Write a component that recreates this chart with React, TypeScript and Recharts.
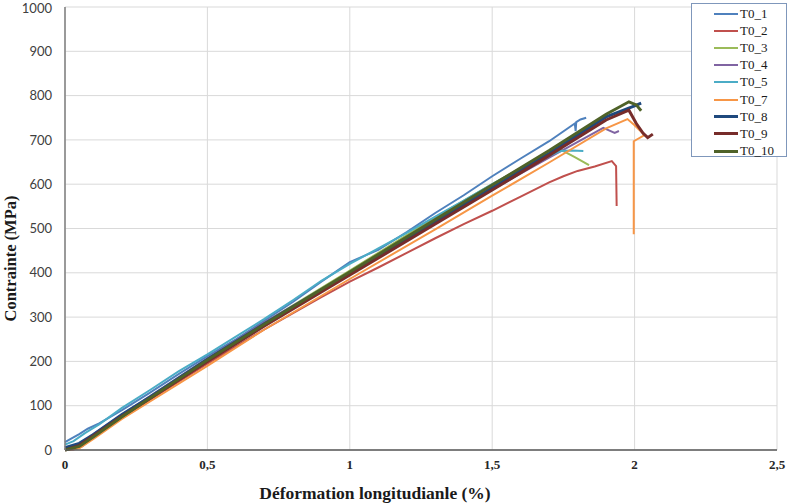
import React from 'react';
import { LineChart, Line, XAxis, YAxis, CartesianGrid, Label } from 'recharts';

// strain (%) / stress (MPa) pairs
const t0_1: [number, number][] = [
  [0, 18], [0.02, 25], [0.05, 36], [0.08, 48], [0.12, 60], [0.2, 90], [0.3, 130], [0.4, 172],
  [0.5, 212], [0.6, 250], [0.7, 292], [0.8, 334], [0.9, 380], [1.0, 424], [1.1, 452], [1.2, 492],
  [1.3, 535], [1.4, 575], [1.5, 618], [1.6, 658], [1.7, 697], [1.79, 737], [1.793, 720],
  [1.795, 740], [1.81, 746], [1.83, 750],
];
const t0_2: [number, number][] = [
  [0, 0], [0.03, 1], [0.06, 8], [0.1, 28], [0.2, 73], [0.3, 114], [0.5, 195], [0.7, 272],
  [0.9, 345], [1.0, 380], [1.1, 412], [1.2, 445], [1.3, 478], [1.4, 510], [1.5, 540], [1.6, 572],
  [1.7, 604], [1.75, 618], [1.8, 630], [1.86, 640], [1.92, 652], [1.935, 641], [1.937, 551],
];
const t0_3: [number, number][] = [
  [0, 0], [0.05, 5], [0.1, 28], [0.2, 74], [0.3, 117], [0.5, 204], [0.7, 287], [1.0, 405],
  [1.3, 525], [1.5, 600], [1.65, 655], [1.74, 678], [1.79, 661], [1.84, 643],
];
const t0_4: [number, number][] = [
  [0, 0], [0.05, 12], [0.1, 36], [0.2, 80], [0.3, 122], [0.5, 207], [0.7, 288], [1.0, 400],
  [1.3, 512], [1.5, 588], [1.7, 660], [1.89, 727], [1.93, 716], [1.945, 720],
];
const t0_5: [number, number][] = [
  [0, 12], [0.03, 20], [0.07, 38], [0.12, 58], [0.2, 95], [0.3, 136], [0.4, 178], [0.5, 216],
  [0.6, 256], [0.7, 296], [0.8, 338], [0.9, 382], [1.0, 420], [1.1, 455], [1.2, 490], [1.3, 527],
  [1.4, 563], [1.5, 600], [1.6, 635], [1.7, 664], [1.74, 675], [1.78, 676], [1.82, 675],
];
const t0_7: [number, number][] = [
  [0, 0], [0.05, 4], [0.1, 25], [0.2, 70], [0.3, 110], [0.5, 190], [0.7, 272], [1.0, 386],
  [1.3, 498], [1.5, 574], [1.7, 649], [1.9, 726], [1.975, 747], [2.0, 733], [2.035, 711],
  [1.997, 697], [1.997, 487],
];
const t0_8: [number, number][] = [
  [0, 5], [0.05, 15], [0.1, 35], [0.2, 80], [0.3, 120], [0.5, 205], [0.7, 285], [1.0, 400],
  [1.3, 515], [1.5, 592], [1.7, 670], [1.9, 752], [2.0, 777], [2.023, 783],
];
const t0_9: [number, number][] = [
  [0, 0], [0.05, 10], [0.1, 32], [0.2, 76], [0.3, 117], [0.5, 200], [0.7, 280], [1.0, 395],
  [1.3, 510], [1.5, 587], [1.7, 665], [1.9, 745], [1.98, 767], [2.006, 737], [2.03, 715],
  [2.046, 705], [2.064, 713],
];
const t0_10: [number, number][] = [
  [0, 0], [0.05, 8], [0.1, 30], [0.2, 75], [0.3, 118], [0.5, 203], [0.7, 284], [1.0, 402],
  [1.3, 520], [1.5, 598], [1.7, 676], [1.9, 758], [1.98, 786], [2.006, 779], [2.023, 766],
];

const xTicks = [0, 0.5, 1, 1.5, 2, 2.5];
const yTicks = [0, 100, 200, 300, 400, 500, 600, 700, 800, 900, 1000];

const series = [
  { name: 'T0_1', pts: t0_1, color: '#4f81bd', w: 2 },
  { name: 'T0_2', pts: t0_2, color: '#c0504d', w: 2 },
  { name: 'T0_3', pts: t0_3, color: '#9bbb59', w: 2 },
  { name: 'T0_4', pts: t0_4, color: '#8064a2', w: 2 },
  { name: 'T0_5', pts: t0_5, color: '#4bacc6', w: 2 },
  { name: 'T0_7', pts: t0_7, color: '#f79646', w: 2 },
  { name: 'T0_8', pts: t0_8, color: '#1f497d', w: 3 },
  { name: 'T0_9', pts: t0_9, color: '#772c2a', w: 3 },
  { name: 'T0_10', pts: t0_10, color: '#4f6228', w: 3 },
];

const serif = 'Liberation Serif';

const LegendBox = () => (
  <div
    style={{
      position: 'absolute',
      left: 691,
      top: 3,
      width: 96,
      height: 154,
      border: '1px solid #7f97bb',
      background: '#fff',
      boxSizing: 'border-box',
      paddingTop: 1,
    }}
  >
    {series.map((s) => (
      <div key={s.name} style={{ display: 'flex', alignItems: 'center', height: 17.2 }}>
        <div style={{ width: 24, height: s.w, background: s.color, marginLeft: 22, marginRight: 2 }} />
        <span style={{ fontFamily: serif, fontSize: 13, color: '#1a1a1a' }}>{s.name}</span>
      </div>
    ))}
  </div>
);

export default function App() {
  return (
    <div style={{ position: 'absolute', left: 0, top: 0, width: 788, height: 503, background: '#fff' }}>
      <LineChart width={788} height={503} margin={{ top: 7, right: 11, left: 0, bottom: 0 }}>
        <CartesianGrid stroke="#d9d9d9" strokeWidth={1} />
        <XAxis
          type="number"
          dataKey="x"
          domain={[0, 2.5]}
          ticks={xTicks}
          tickFormatter={(v) => String(v).replace('.', ',')}
          tickLine={false}
          tickSize={0}
          tickMargin={10}
          height={53}
          stroke="#595959"
          strokeWidth={1.5}
          tick={{ fontFamily: serif, fontSize: 13, fontWeight: 'bold', fill: '#262626' }}
        >
          <Label
            value="Déformation longitudianle (%)"
            position="insideBottom"
            offset={4}
            dx={-46}
            fontFamily={serif}
            fontSize={17.5}
            fontWeight="bold"
            fill="#1a1a1a"
          />
        </XAxis>
        <YAxis
          type="number"
          dataKey="y"
          domain={[0, 1000]}
          ticks={yTicks}
          tickLine={false}
          tickSize={0}
          tickMargin={13}
          width={65}
          stroke="#7f7f7f"
          strokeWidth={1.5}
          tick={{ fontFamily: 'Lato', fontSize: 13, fill: '#404040' }}
        >
          <Label
            value="Contrainte (MPa)"
            angle={-90}
            position="insideLeft"
            offset={10}
            dy={30}
            fontFamily={serif}
            fontSize={16.5}
            fontWeight="bold"
            fill="#1a1a1a"
            textAnchor="middle"
          />
        </YAxis>
        {series.map((s) => (
          <Line
            key={s.name}
            name={s.name}
            data={s.pts.map(([x, y]) => ({ x, y }))}
            dataKey="y"
            stroke={s.color}
            strokeWidth={s.w}
            dot={false}
            activeDot={false}
            isAnimationActive={false}
          />
        ))}
      </LineChart>
      <LegendBox />
    </div>
  );
}
